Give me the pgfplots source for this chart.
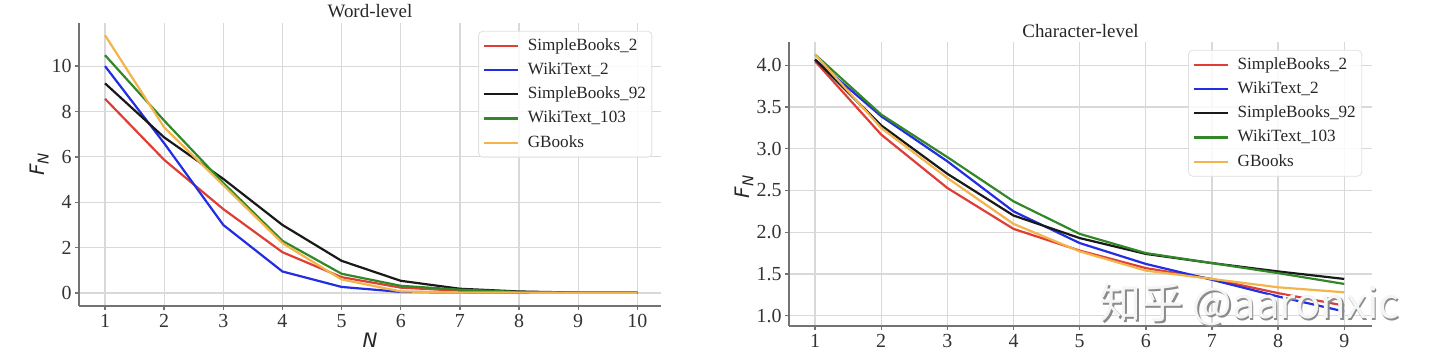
\documentclass[border=0pt]{standalone}
\usepackage{fontspec}
\setmainfont{Liberation Serif}
\newfontfamily\djv{DejaVu Sans}
\newfontfamily\cjk{Noto Sans CJK SC}
\usepackage{pgfplots}
\pgfplotsset{compat=1.18}
\definecolor{cred}{RGB}{222,62,52}
\definecolor{cblue}{RGB}{35,45,225}
\definecolor{cblack}{RGB}{25,25,25}
\definecolor{cgreen}{RGB}{50,135,40}
\definecolor{corange}{RGB}{242,180,75}
\pgfplotsset{
  myax/.style={
    scale only axis,
    axis lines*=left,
    axis line style={-, draw=black!55, line width=1bp},
    tick align=outside,
    major tick length=2bp,
    tick style={draw=black!55, line width=0.7bp},
    grid=major,
    major grid style={draw=black!15, line width=0.6bp},
    /pgf/number format/assume math mode=true,
    ticklabel style={font=\fontsize{10}{12}\selectfont, text=black!80},
    yticklabel style={inner sep=1.5bp},
    xticklabel style={inner sep=2bp},
    every axis title shift=0pt,
    title style={at={(axis description cs:0.5,1)}, anchor=base, yshift=2.5bp, font=\fontsize{9.5}{11}\selectfont, text=black!85},
    ylabel style={anchor=center, font=\djv\itshape\fontsize{10}{12}\selectfont, text=black!85},
    xlabel style={anchor=center, font=\djv\itshape\fontsize{10}{12}\selectfont, text=black!85},
    legend cell align=left,
    legend style={draw=black!12, rounded corners=2bp, fill=white, fill opacity=0.85, text opacity=1,
      font=\fontsize{8.6}{10}\selectfont, text=black!85,
      nodes={inner sep=1bp, text height=6.5bp, text depth=2bp},
      row sep=1.6bp, column sep=3.5bp, inner xsep=2bp, inner ysep=2bp},
    every axis plot/.append style={line width=1.1bp, no markers},
  }
}
\begin{document}
\begin{tikzpicture}
\useasboundingbox (0,0) rectangle (720bp,180bp);
\begin{axis}[myax,
  at={(39.5bp,27bp)}, anchor=south west,
  width=291bp, height=141.5bp,
  xmin=0.56, xmax=10.4, ymin=-0.57, ymax=11.9,
  xtick={1,...,10}, ytick={0,2,4,6,8,10},
  title={Word-level},
  xlabel={N}, ylabel={F\raisebox{-0.35ex}{\fontsize{7.5}{9}\selectfont N}},
  xlabel style={at={(axis description cs:0.5,-0.12)}},
  ylabel style={at={(axis description cs:-0.068,0.5)}},
  legend style={at={(axis description cs:0.985,0.972)}, anchor=north east},
]
\addplot[cred] coordinates {(1,8.56) (2,5.87) (3,3.70) (4,1.80) (5,0.70) (6,0.24) (7,0.10) (8,0.04) (9,0.02) (10,0.01)};
\addlegendentry{SimpleBooks\_2}
\addplot[cblue] coordinates {(1,10.0) (2,6.6) (3,3.0) (4,0.95) (5,0.27) (6,0.05) (7,0.03) (8,0.02) (9,0.01) (10,0.01)};
\addlegendentry{WikiText\_2}
\addplot[cblack] coordinates {(1,9.24) (2,6.86) (3,5.03) (4,3.0) (5,1.42) (6,0.54) (7,0.19) (8,0.07) (9,0.02) (10,0.01)};
\addlegendentry{SimpleBooks\_92}
\addplot[cgreen] coordinates {(1,10.48) (2,7.6) (3,4.85) (4,2.3) (5,0.85) (6,0.32) (7,0.15) (8,0.05) (9,0.02) (10,0.01)};
\addlegendentry{WikiText\_103}
\addplot[corange] coordinates {(1,11.36) (2,7.3) (3,4.75) (4,2.2) (5,0.6) (6,0.07) (7,0.03) (8,0.02) (9,0.01) (10,0.01)};
\addlegendentry{GBooks}
\end{axis}
\begin{axis}[myax,
  at={(394.5bp,17bp)}, anchor=south west,
  width=291.5bp, height=142bp,
  xmin=0.606, xmax=9.42, ymin=0.876, ymax=4.28,
  xtick={1,...,9}, ytick={1.0,1.5,...,4.0},
  yticklabel style={/pgf/number format/.cd, fixed, fixed zerofill, precision=1},
  title={Character-level},
  ylabel={F\raisebox{-0.35ex}{\fontsize{7.5}{9}\selectfont N}},
  ylabel style={at={(axis description cs:-0.077,0.49)}},
  legend style={at={(axis description cs:0.983,0.972)}, anchor=north east},
]
\addplot[cred] coordinates {(1,4.05) (2,3.17) (3,2.53) (4,2.04) (5,1.78) (6,1.57) (7,1.44) (8,1.27) (9,1.12)};
\addlegendentry{SimpleBooks\_2}
\addplot[cblue] coordinates {(1,4.07) (2,3.39) (3,2.85) (4,2.25) (5,1.87) (6,1.62) (7,1.43) (8,1.23) (9,1.05)};
\addlegendentry{WikiText\_2}
\addplot[cblack] coordinates {(1,4.07) (2,3.28) (3,2.70) (4,2.20) (5,1.93) (6,1.74) (7,1.63) (8,1.53) (9,1.44)};
\addlegendentry{SimpleBooks\_92}
\addplot[cgreen] coordinates {(1,4.13) (2,3.41) (3,2.90) (4,2.37) (5,1.98) (6,1.75) (7,1.63) (8,1.51) (9,1.38)};
\addlegendentry{WikiText\_103}
\addplot[corange] coordinates {(1,4.13) (2,3.25) (3,2.65) (4,2.10) (5,1.77) (6,1.54) (7,1.44) (8,1.34) (9,1.28)};
\addlegendentry{GBooks}
\end{axis}
\node[anchor=center, text=black!45, font=\cjk\fontsize{21}{24}\selectfont] at (625.6bp,26.9bp) {知乎 @aaronxic};
\node[anchor=center, text=white!96!black, font=\cjk\fontsize{21}{24}\selectfont] at (625bp,27.5bp) {知乎 @aaronxic};
\end{tikzpicture}
\end{document}
